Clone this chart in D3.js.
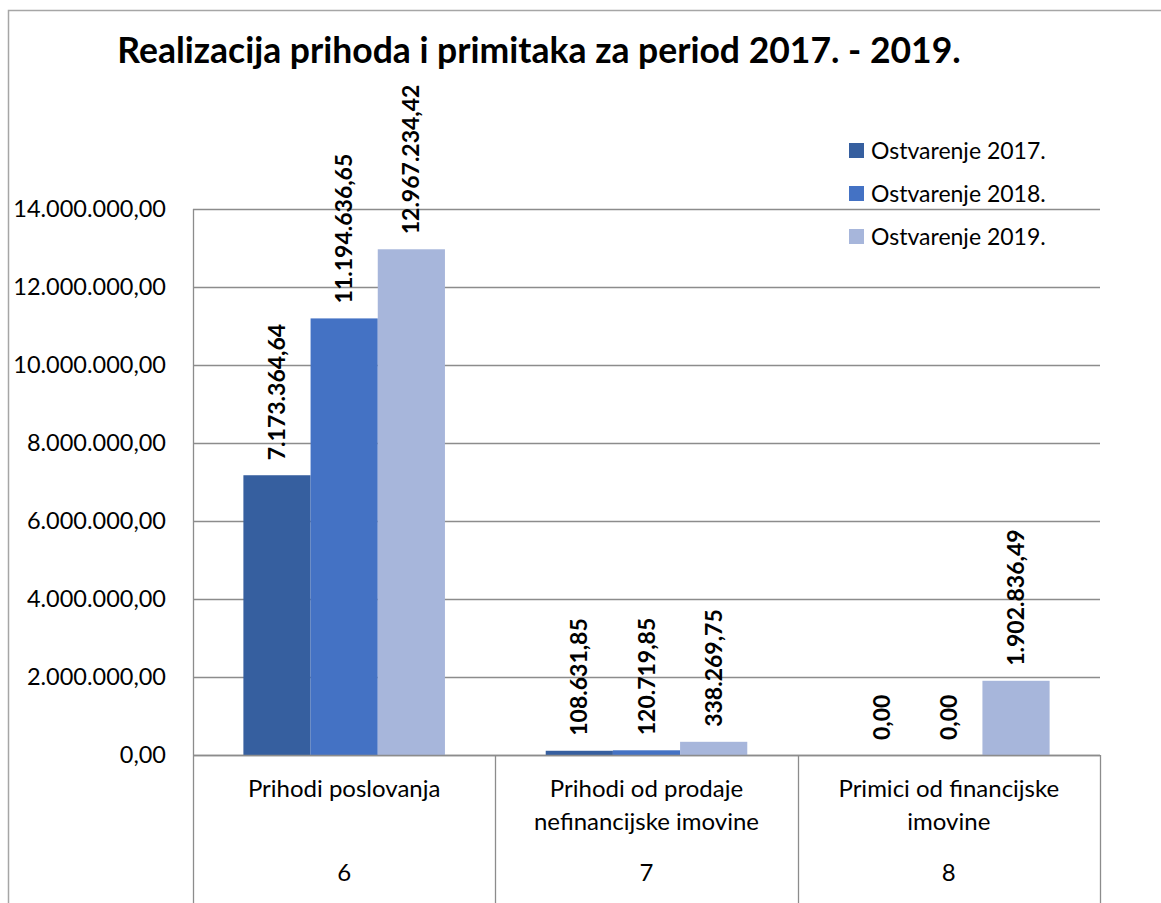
<!DOCTYPE html>
<html>
<head>
<meta charset="utf-8">
<script src="https://cdn.jsdelivr.net/npm/d3@7"></script>
<style>
  body { margin: 0; background: #fff; }
  text { font-family: Lato, "Open Sans", sans-serif; fill: #000; }
</style>
</head>
<body>
<div id="chart"></div>
<script>
const categories = ["Prihodi poslovanja", "Prihodi od prodaje nefinancijske imovine", "Primici od financijske imovine"];
const categoryLines = [["Prihodi poslovanja"], ["Prihodi od prodaje", "nefinancijske imovine"], ["Primici od financijske", "imovine"]];
const codes = ["6", "7", "8"];
const seriesNames = ["Ostvarenje 2017.", "Ostvarenje 2018.", "Ostvarenje 2019."];
const values2017 = [7173364.64, 108631.85, 0];
const values2018 = [11194636.65, 120719.85, 0];
const values2019 = [12967234.42, 338269.75, 1902836.49];
const yTicks = [0, 2000000, 4000000, 6000000, 8000000, 10000000, 12000000, 14000000];
const colors = ["#365f9f", "#4472c4", "#a7b6db"];

function drawChart() {
    const width = 1161;
    const height = 903;
    const left = 193, right = 1100, top = 209, base = 755;

    const svg = d3.select("#chart")
        .append("svg")
        .attr("width", width)
        .attr("height", height);

    // chart border (only top and left visible in the crop)
    svg.append("rect")
        .attr("x", 8.5)
        .attr("y", 10.5)
        .attr("width", width + 20)
        .attr("height", height + 20)
        .attr("fill", "none")
        .attr("stroke", "#a6a6a6")
        .attr("stroke-width", 1.5);

    const hr = d3.formatLocale({ decimal: ",", thousands: ".", grouping: [3], currency: ["", ""] });
    const fmt = hr.format(",.2f");

    const y = d3.scaleLinear().domain([0, 14000000]).range([base, top]);
    const x0 = d3.scaleBand().domain(categories).range([left, right]);
    const x1 = d3.scaleBand().domain(seriesNames).range([0, x0.bandwidth()]).paddingOuter(0.75);

    const series = seriesNames.map((name, i) => ({
        name: name,
        color: colors[i],
        values: [values2017, values2018, values2019][i]
    }));

    // gridlines
    svg.append("g")
        .selectAll("line")
        .data(yTicks)
        .enter().append("line")
        .attr("x1", left)
        .attr("x2", right)
        .attr("y1", d => Math.round(y(d)) + 0.5)
        .attr("y2", d => Math.round(y(d)) + 0.5)
        .attr("stroke", "#8c8c8c")
        .attr("stroke-width", 1.3);

    // y axis labels
    const yAxis = svg.append("g")
        .attr("transform", `translate(${left - 27}, 0)`)
        .call(d3.axisLeft(y).tickValues(yTicks).tickSize(0).tickFormat(fmt));
    yAxis.select(".domain").remove();
    yAxis.selectAll("text")
        .style("font-family", "Lato, sans-serif")
        .style("font-size", "23.5px")
        .attr("fill", "#000")
        .attr("x", 0);

    // bars
    const groups = svg.append("g")
        .selectAll("g")
        .data(series)
        .enter().append("g")
        .attr("fill", d => d.color);

    groups.selectAll("rect")
        .data(d => d.values.map((v, j) => ({ name: d.name, cat: categories[j], value: v })))
        .enter().append("rect")
        .attr("x", d => x0(d.cat) + x1(d.name))
        .attr("y", d => y(d.value))
        .attr("width", x1.bandwidth())
        .attr("height", d => base - y(d.value));

    // value labels
    groups.selectAll("text")
        .data(d => d.values.map((v, j) => ({ name: d.name, cat: categories[j], value: v })))
        .enter().append("text")
        .attr("transform", d => {
            const cx = x0(d.cat) + x1(d.name) + x1.bandwidth() / 2;
            return `translate(${cx + 8}, ${y(d.value) - 15}) rotate(-90)`;
        })
        .attr("text-anchor", "start")
        .style("font-size", "23px")
        .style("font-weight", "bold")
        .attr("fill", "#000")
        .text(d => fmt(d.value));

    // x axis base line and separators
    svg.append("line")
        .attr("x1", left).attr("x2", right)
        .attr("y1", base + 0.5).attr("y2", base + 0.5)
        .attr("stroke", "#8c8c8c").attr("stroke-width", 1.3);

    svg.append("line")
        .attr("x1", left + 0.5).attr("x2", left + 0.5)
        .attr("y1", top).attr("y2", base)
        .attr("stroke", "#8c8c8c").attr("stroke-width", 1.3);

    const bounds = categories.map(c => x0(c)).concat([right]);
    svg.append("g")
        .selectAll("line")
        .data(bounds)
        .enter().append("line")
        .attr("x1", d => Math.round(d) + 0.5)
        .attr("x2", d => Math.round(d) + 0.5)
        .attr("y1", base)
        .attr("y2", height)
        .attr("stroke", "#8c8c8c")
        .attr("stroke-width", 1.3);

    // category labels
    const catLabels = svg.append("g")
        .selectAll("text")
        .data(categories)
        .enter().append("text")
        .attr("x", d => x0(d) + x0.bandwidth() / 2)
        .attr("y", 797)
        .attr("text-anchor", "middle")
        .style("font-size", "24px");
    catLabels.selectAll("tspan")
        .data((d, i) => categoryLines[i])
        .enter().append("tspan")
        .attr("x", function () { return d3.select(this.parentNode).attr("x"); })
        .attr("dy", (d, i) => i === 0 ? 0 : 33)
        .text(d => d);

    svg.append("g")
        .selectAll("text")
        .data(codes)
        .enter().append("text")
        .attr("x", (d, i) => x0(categories[i]) + x0.bandwidth() / 2)
        .attr("y", 881)
        .attr("text-anchor", "middle")
        .style("font-size", "24px")
        .text(d => d);

    // title
    svg.append("text")
        .attr("x", 539)
        .attr("y", 63)
        .attr("text-anchor", "middle")
        .style("font-size", "35.5px")
        .style("font-weight", "bold")
        .text("Realizacija prihoda i primitaka za period 2017. - 2019.");

    // legend
    const legend = svg.append("g")
        .attr("transform", "translate(849, 143)");
    const items = legend.selectAll("g")
        .data(series)
        .enter().append("g")
        .attr("transform", (d, i) => `translate(0, ${i * 43})`);
    items.append("rect")
        .attr("width", 15)
        .attr("height", 15)
        .attr("fill", d => d.color);
    items.append("text")
        .attr("x", 22)
        .attr("y", 15.5)
        .style("font-size", "23px")
        .text(d => d.name);
}

drawChart();
</script>
</body>
</html>
